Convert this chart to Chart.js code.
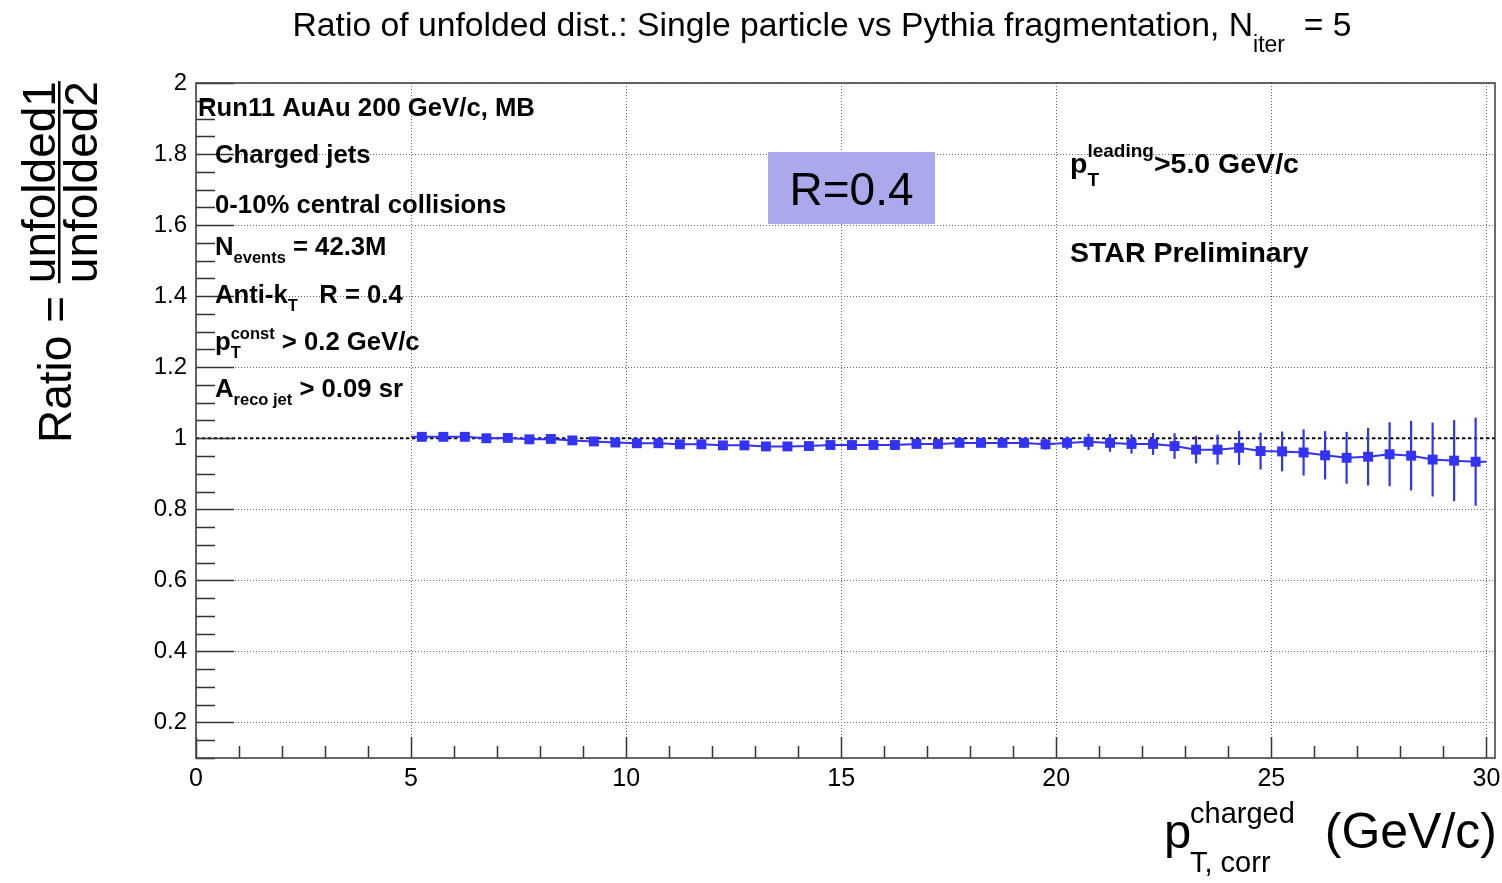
<!DOCTYPE html>
<html>
<head>
<meta charset="utf-8">
<script src="https://cdn.jsdelivr.net/npm/chart.js@4.4.1/dist/chart.umd.min.js"></script>
<style>
  html, body { margin: 0; padding: 0; background: #fff; }
  #wrap { width: 1502px; height: 883px; }
</style>
</head>
<body>
<div id="wrap"><canvas id="myCanvas" width="1502" height="883"></canvas></div>
<script>
// bin centres (GeV/c)
const ptBins = [5.25, 5.75, 6.25, 6.75, 7.25, 7.75, 8.25, 8.75, 9.25, 9.75,
  10.25, 10.75, 11.25, 11.75, 12.25, 12.75, 13.25, 13.75, 14.25, 14.75,
  15.25, 15.75, 16.25, 16.75, 17.25, 17.75, 18.25, 18.75, 19.25, 19.75,
  20.25, 20.75, 21.25, 21.75, 22.25, 22.75, 23.25, 23.75, 24.25, 24.75,
  25.25, 25.75, 26.25, 26.75, 27.25, 27.75, 28.25, 28.75, 29.25, 29.75];

// ratio unfolded1 / unfolded2
const ratioVals = [1.004, 1.004, 1.004, 1.000, 1.001, 0.997, 0.998, 0.994, 0.991, 0.988,
  0.986, 0.986, 0.983, 0.983, 0.980, 0.980, 0.977, 0.977, 0.978, 0.981,
  0.981, 0.981, 0.981, 0.984, 0.984, 0.987, 0.987, 0.987, 0.987, 0.983,
  0.987, 0.990, 0.987, 0.984, 0.984, 0.978, 0.968, 0.968, 0.973, 0.964,
  0.963, 0.960, 0.952, 0.945, 0.948, 0.955, 0.951, 0.940, 0.937, 0.934];

// statistical errors
const ratioErrs = [0.002, 0.002, 0.002, 0.002, 0.002, 0.003, 0.003, 0.003, 0.003, 0.003,
  0.003, 0.003, 0.004, 0.004, 0.004, 0.004, 0.004, 0.005, 0.005, 0.005,
  0.005, 0.006, 0.006, 0.007, 0.007, 0.008, 0.009, 0.010, 0.013, 0.015,
  0.018, 0.023, 0.025, 0.027, 0.031, 0.036, 0.039, 0.042, 0.048, 0.052,
  0.056, 0.065, 0.068, 0.073, 0.081, 0.090, 0.098, 0.104, 0.114, 0.124];

const xTicks = [0, 5, 10, 15, 20, 25, 30];
const yTicks = [0.2, 0.4, 0.6, 0.8, 1.0, 1.2, 1.4, 1.6, 1.8, 2.0];
const xRange = [0, 30.2];
const yRange = [0.1, 2.0];
const xMinorStep = 1;
const yMinorStep = 0.05;

const FONT = '"Liberation Sans", Arial, Helvetica, sans-serif';
const BLUE = '#3333f6';

// draw a row of text pieces, pieces may be sub/superscripts
function drawRuns(ctx, x, y, parts, weight) {
  let cx = x;
  parts.forEach(p => {
    ctx.font = weight + ' ' + p.size + 'px ' + FONT;
    if (p.sub !== undefined || p.sup !== undefined) {
      let w = 0;
      if (p.sub) { ctx.fillText(p.sub, cx, y + p.subDy); w = Math.max(w, ctx.measureText(p.sub).width); }
      if (p.sup) { ctx.fillText(p.sup, cx, y + p.supDy); w = Math.max(w, ctx.measureText(p.sup).width); }
      cx += w;
    } else {
      ctx.fillText(p.t, cx, y + (p.dy || 0));
      cx += ctx.measureText(p.t).width;
    }
  });
  return cx;
}

const rootStyle = {
  id: 'rootStyle',
  beforeDatasetsDraw(chart) {
    const {ctx, chartArea: a, scales: {x, y}} = chart;
    ctx.save();
    // reference line at 1
    ctx.strokeStyle = '#000';
    ctx.lineWidth = 2;
    ctx.setLineDash([3, 3]);
    ctx.beginPath();
    ctx.moveTo(a.left, y.getPixelForValue(1));
    ctx.lineTo(a.right, y.getPixelForValue(1));
    ctx.stroke();
    ctx.setLineDash([]);

    // error bars
    ctx.strokeStyle = BLUE;
    ctx.lineWidth = 2.2;
    ptBins.forEach((b, i) => {
      const px = x.getPixelForValue(b);
      ctx.beginPath();
      ctx.moveTo(px, y.getPixelForValue(ratioVals[i] - ratioErrs[i]));
      ctx.lineTo(px, y.getPixelForValue(ratioVals[i] + ratioErrs[i]));
      ctx.stroke();
    });
    // half-bin line ends
    const n = ptBins.length;
    const half = (ptBins[1] - ptBins[0]) / 2;
    ctx.lineWidth = 2;
    ctx.beginPath();
    ctx.moveTo(x.getPixelForValue(ptBins[0] - half), y.getPixelForValue(ratioVals[0]));
    ctx.lineTo(x.getPixelForValue(ptBins[0]), y.getPixelForValue(ratioVals[0]));
    ctx.moveTo(x.getPixelForValue(ptBins[n - 1]), y.getPixelForValue(ratioVals[n - 1]));
    ctx.lineTo(x.getPixelForValue(ptBins[n - 1] + half), y.getPixelForValue(ratioVals[n - 1]));
    ctx.stroke();
    ctx.restore();
  },
  afterDraw(chart) {
    const {ctx, chartArea: a, scales: {x, y}} = chart;
    ctx.save();
    // tick marks, drawn inwards
    ctx.strokeStyle = '#333';
    ctx.lineWidth = 1.5;
    ctx.beginPath();
    for (let v = yRange[0]; v <= yRange[1] + 1e-9; v += yMinorStep) {
      const r = Math.round(v * 100) / 100;
      const major = yTicks.some(t => Math.abs(t - r) < 1e-6);
      const py = Math.round(y.getPixelForValue(r)) + 0.5;
      ctx.moveTo(a.left, py);
      ctx.lineTo(a.left + (major ? 38 : 19), py);
    }
    for (let v = xRange[0]; v <= 30 + 1e-9; v += xMinorStep) {
      const major = xTicks.includes(v);
      const px = Math.round(x.getPixelForValue(v)) + 0.5;
      ctx.moveTo(px, a.bottom);
      ctx.lineTo(px, a.bottom - (major ? 21 : 12));
    }
    ctx.stroke();
    // frame
    ctx.strokeStyle = '#444';
    ctx.lineWidth = 1.6;
    ctx.strokeRect(a.left, a.top, a.right - a.left, a.bottom - a.top);

    ctx.fillStyle = '#000';
    ctx.textBaseline = 'alphabetic';
    ctx.textAlign = 'left';

    // title
    const titleParts = [
      {t: 'Ratio of unfolded dist.: Single particle vs Pythia fragmentation, N', size: 33.7},
      {sub: 'iter', size: 23, subDy: 16},
      {t: '  = 5', size: 33.7}
    ];
    ctx.font = '33.7px ' + FONT;
    let tw = ctx.measureText(titleParts[0].t).width + ctx.measureText(titleParts[2].t).width;
    ctx.font = '23px ' + FONT;
    tw += ctx.measureText('iter').width;
    drawRuns(ctx, 822 - tw / 2, 36, titleParts, 'normal');

    // left text block
    const fs = 25.7;
    drawRuns(ctx, 198, 116, [{t: 'Run11 AuAu 200 GeV/c, MB', size: fs}], 'bold');
    drawRuns(ctx, 215, 163, [{t: 'Charged jets', size: fs}], 'bold');
    drawRuns(ctx, 215, 213, [{t: '0-10% central collisions', size: fs}], 'bold');
    drawRuns(ctx, 215, 255, [{t: 'N', size: fs}, {t: 'events', size: 16.5, dy: 8}, {t: ' = 42.3M', size: fs}], 'bold');
    drawRuns(ctx, 215, 303, [{t: 'Anti-k', size: fs}, {t: 'T', size: 16.5, dy: 8}, {t: '   R = 0.4', size: fs}], 'bold');
    drawRuns(ctx, 215, 350, [{t: 'p', size: fs}, {sub: 'T', sup: 'const', size: 16.5, subDy: 8, supDy: -11}, {t: ' > 0.2 GeV/c', size: fs}], 'bold');
    drawRuns(ctx, 215, 397, [{t: 'A', size: fs}, {t: 'reco jet', size: 16.5, dy: 8}, {t: ' > 0.09 sr', size: fs}], 'bold');

    // right text block
    drawRuns(ctx, 1070, 173, [{t: 'p', size: 28.5}, {sub: 'T', sup: 'leading', size: 19, subDy: 13, supDy: -16}, {t: '>5.0 GeV/c', size: 28.5}], 'bold');
    drawRuns(ctx, 1070, 262, [{t: 'STAR Preliminary', size: 28.5}], 'bold');

    // R=0.4 box
    ctx.fillStyle = '#a9a9ec';
    ctx.fillRect(768, 152, 167, 72);
    ctx.fillStyle = '#000';
    ctx.font = '46px ' + FONT;
    ctx.textAlign = 'center';
    ctx.fillText('R=0.4', 851.5, 205);
    ctx.textAlign = 'left';

    // y axis title (rotated)
    ctx.save();
    ctx.translate(71, 443);
    ctx.rotate(-Math.PI / 2);
    ctx.font = '46px ' + FONT;
    ctx.fillText('Ratio = ', 0, 0);
    const u0 = ctx.measureText('Ratio = ').width;
    const wn = ctx.measureText('unfolded1').width;
    const wd = ctx.measureText('unfolded2').width;
    const wf = Math.max(wn, wd);
    ctx.fillText('unfolded1', u0 + (wf - wn) / 2, -16);
    ctx.fillText('unfolded2', u0 + (wf - wd) / 2, 26);
    ctx.fillRect(u0, -13, wf, 2.5);
    ctx.restore();

    // x axis title
    drawRuns(ctx, 1164, 848, [{t: 'p', size: 49}], 'normal');
    drawRuns(ctx, 1190, 848, [{sub: 'T, corr', sup: 'charged', size: 29, subDy: 24, supDy: -25}], 'normal');
    ctx.font = '50px ' + FONT;
    ctx.textAlign = 'right';
    ctx.fillText('(GeV/c)', 1497, 848);
    ctx.restore();
  }
};

const fmt = v => String(Math.round(v * 10) / 10);

const ctx = document.getElementById('myCanvas').getContext('2d');
const chart = new Chart(ctx, {
  type: 'line',
  data: {
    datasets: [{
      label: 'ratio',
      data: ptBins.map((b, i) => ({x: b, y: ratioVals[i]})),
      borderColor: BLUE,
      backgroundColor: BLUE,
      borderWidth: 2,
      pointStyle: 'rect',
      pointRadius: 7,
      pointBorderWidth: 0,
      pointBackgroundColor: BLUE,
      tension: 0,
      fill: false
    }]
  },
  options: {
    responsive: false,
    animation: false,
    devicePixelRatio: 1,
    layout: {padding: {left: 0, right: 5, top: 83, bottom: 0}},
    plugins: {legend: {display: false}, tooltip: {enabled: false}},
    scales: {
      x: {
        type: 'linear',
        min: xRange[0],
        max: xRange[1],
        afterBuildTicks: s => { s.ticks = xTicks.map(v => ({value: v})); },
        afterFit: s => { s.height = 125; s.paddingLeft = 0; s.paddingRight = 0; },
        grid: {color: '#666', lineWidth: 1, drawTicks: false},
        border: {display: false, dash: [1, 2]},
        ticks: {padding: 6, color: '#000', font: {family: FONT, size: 25}, maxRotation: 0, autoSkip: false, callback: fmt}
      },
      y: {
        type: 'linear',
        min: yRange[0],
        max: yRange[1],
        afterBuildTicks: s => { s.ticks = yTicks.map(v => ({value: v})); },
        afterFit: s => { s.width = 196; s.paddingTop = 0; s.paddingBottom = 0; },
        grid: {color: '#666', lineWidth: 1, drawTicks: false},
        border: {display: false, dash: [1, 2]},
        ticks: {padding: 9, color: '#000', font: {family: FONT, size: 24}, autoSkip: false, callback: fmt}
      }
    }
  },
  plugins: [rootStyle]
});
</script>
</body>
</html>
